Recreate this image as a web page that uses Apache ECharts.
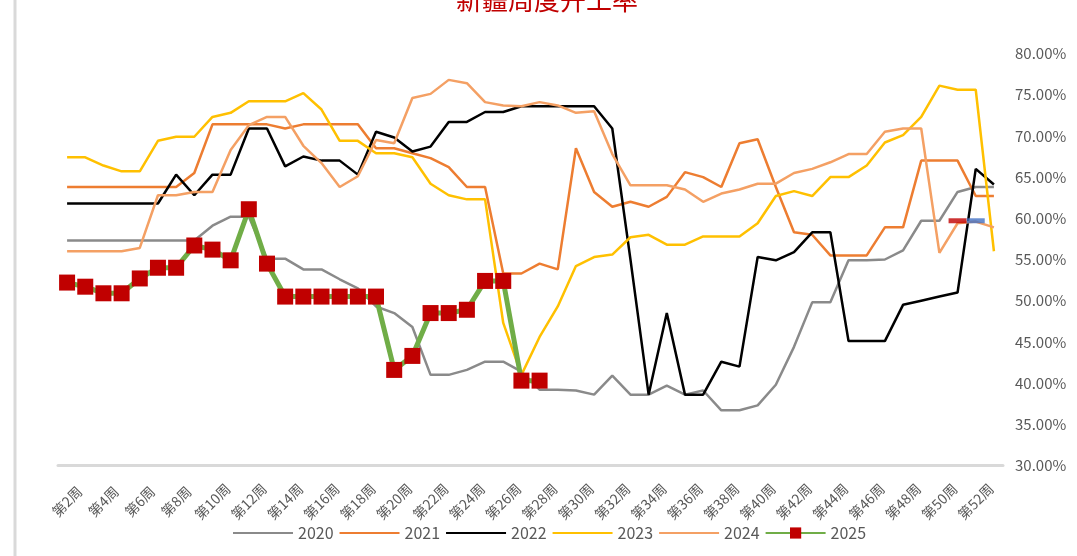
<!DOCTYPE html>
<html>
<head>
<meta charset="utf-8">
<script src="https://cdn.jsdelivr.net/npm/echarts@6/dist/echarts.min.js"></script>
<style>
  html, body { margin: 0; padding: 0; background: #fff; }
  #chart { width: 1077px; height: 556px; }
</style>
</head>
<body>
<div id="chart"></div>
<script>
const weeks = ['第2周', '第3周', '第4周', '第5周', '第6周', '第7周', '第8周', '第9周', '第10周', '第11周',
    '第12周', '第13周', '第14周', '第15周', '第16周', '第17周', '第18周', '第19周', '第20周', '第21周',
    '第22周', '第23周', '第24周', '第25周', '第26周', '第27周', '第28周', '第29周', '第30周', '第31周',
    '第32周', '第33周', '第34周', '第35周', '第36周', '第37周', '第38周', '第39周', '第40周', '第41周',
    '第42周', '第43周', '第44周', '第45周', '第46周', '第47周', '第48周', '第49周', '第50周', '第51周',
    '第52周', '第53周'];

const y2020 = [57.3, 57.3, 57.3, 57.3, 57.3, 57.3, 57.3, 57.3, 59.1, 60.2,
    60.2, 55.1, 55.1, 53.8, 53.8, 52.6, 51.5, 49.3, 48.5, 46.8,
    41.0, 41.0, 41.6, 42.6, 42.6, 41.4, 39.2, 39.2, 39.1, 38.6,
    40.9, 38.6, 38.6, 39.7, 38.6, 39.1, 36.7, 36.7, 37.3, 39.8,
    44.4, 49.8, 49.8, 54.9, 54.9, 55.0, 56.1, 59.7, 59.7, 63.2,
    63.8, 63.8];

const y2021 = [63.8, 63.8, 63.8, 63.8, 63.8, 63.8, 63.8, 65.5, 71.4, 71.4,
    71.4, 71.4, 70.9, 71.4, 71.4, 71.4, 71.4, 68.5, 68.5, 67.9,
    67.3, 66.2, 63.8, 63.8, 53.3, 53.3, 54.5, 53.8, 68.5, 63.2,
    61.4, 62.0, 61.4, 62.6, 65.6, 65.0, 63.8, 69.1, 69.6, 63.8,
    58.3, 58.0, 55.5, 55.5, 55.5, 58.9, 58.9, 67.0, 67.0, 67.0,
    62.7, 62.7];

const y2022 = [61.8, 61.8, 61.8, 61.8, 61.8, 61.8, 65.3, 62.8, 65.3, 65.3,
    70.9, 70.9, 66.3, 67.5, 67.0, 67.0, 65.3, 70.5, 69.8, 68.1,
    68.7, 71.7, 71.7, 72.9, 72.9, 73.6, 73.6, 73.6, 73.6, 73.6,
    70.9, 55.0, 38.6, 48.5, 38.6, 38.6, 42.6, 42.0, 55.3, 54.9,
    55.9, 58.3, 58.3, 45.1, 45.1, 45.1, 49.5, 50.0, 50.5, 51.0,
    66.0, 64.1];

const y2023 = [67.4, 67.4, 66.4, 65.7, 65.7, 69.4, 69.9, 69.9, 72.3, 72.8,
    74.2, 74.2, 74.2, 75.2, 73.2, 69.4, 69.4, 67.9, 67.9, 67.4,
    64.2, 62.8, 62.3, 62.3, 47.3, 41.0, 45.6, 49.3, 54.2, 55.3,
    55.6, 57.7, 58.0, 56.8, 56.8, 57.8, 57.8, 57.8, 59.4, 62.7,
    63.3, 62.7, 65.0, 65.0, 66.4, 69.2, 70.1, 72.3, 76.1, 75.6,
    75.6, 56.0];

const y2024 = [56.0, 56.0, 56.0, 56.0, 56.4, 62.8, 62.8, 63.2, 63.2, 68.3,
    71.3, 72.3, 72.3, 68.8, 66.7, 63.8, 65.1, 69.5, 69.1, 74.6,
    75.1, 76.8, 76.4, 74.1, 73.7, 73.6, 74.1, 73.7, 72.8, 73.0,
    67.8, 64.0, 64.0, 64.0, 63.5, 62.0, 63.0, 63.5, 64.2, 64.2,
    65.5, 66.0, 66.8, 67.8, 67.8, 70.5, 70.9, 70.9, 55.8, 59.4,
    59.6, 58.9];

const y2025 = [52.2, 51.7, 50.9, 50.9, 52.7, 54.0, 54.0, 56.7, 56.2, 54.9,
    61.1, 54.5, 50.5, 50.5, 50.5, 50.5, 50.5, 50.5, 41.6, 43.3,
    48.5, 48.5, 48.9, 52.4, 52.4, 40.3, 40.3];

// the small red / blue marks near the right edge
const markRed = [['第51周', 59.7]];
const markBlue = [['第52周', 59.7]];

const plainYears = ['2020', '2021', '2022', '2023', '2024'];

function plainLine(name, data, color) {
    return {
        name: name,
        type: 'line',
        data: data,
        symbol: 'none',
        lineStyle: { color: color, width: 2.5 },
        itemStyle: { color: color }
    };
}

const chart = echarts.init(document.getElementById('chart'));

chart.setOption({
    backgroundColor: '#ffffff',
    animation: false,
    textStyle: { fontFamily: "'Noto Sans CJK SC', 'Noto Sans', sans-serif" },
    title: {
        text: '新疆周度开工率',
        left: 456,
        top: -13,
        padding: 0,
        textStyle: { color: '#C00000', fontSize: 26, fontWeight: 'normal', lineHeight: 26 }
    },
    graphic: [{
        type: 'line',
        shape: { x1: 15, y1: 0, x2: 15, y2: 556 },
        style: { stroke: '#D9D9D9', lineWidth: 3 }
    }],
    legend: {
        data: plainYears.map(function (y) {
            return { name: y, itemStyle: { opacity: 0 } };
        }).concat([{ name: '2025' }]),
        left: 232,
        top: 525,
        padding: 0,
        itemWidth: 60,
        itemHeight: 14,
        itemGap: 5,
        textStyle: { color: '#595959', fontSize: 16 }
    },
    grid: { left: 58, right: 74, top: 53.5, bottom: 90.5 },
    xAxis: {
        type: 'category',
        data: weeks,
        boundaryGap: true,
        axisLine: { lineStyle: { color: '#D9D9D9', width: 3 } },
        axisTick: { show: false },
        axisLabel: {
            interval: 1,
            rotate: 45,
            align: 'center',
            verticalAlign: 'middle',
            margin: 36,
            color: '#595959',
            fontSize: 14
        }
    },
    yAxis: {
        type: 'value',
        position: 'right',
        min: 30,
        max: 80,
        interval: 5,
        axisLine: { show: false },
        axisTick: { show: false },
        splitLine: { show: false },
        axisLabel: {
            margin: 12,
            color: '#595959',
            fontSize: 15,
            formatter: function (v) { return v.toFixed(2) + '%'; }
        }
    },
    series: [
        plainLine('2020', y2020, '#8A8A8A'),
        plainLine('2021', y2021, '#ED7D31'),
        plainLine('2022', y2022, '#000000'),
        plainLine('2023', y2023, '#FFC000'),
        plainLine('2024', y2024, '#F4A064'),
        {
            name: '2025',
            type: 'line',
            data: y2025,
            symbol: 'rect',
            symbolSize: 16,
            showAllSymbol: true,
            lineStyle: { color: '#70AD47', width: 5 },
            itemStyle: { color: '#C00000' },
            z: 5
        },
        {
            name: 'markRed',
            type: 'scatter',
            data: markRed,
            symbol: 'rect',
            symbolSize: [18, 5],
            itemStyle: { color: '#C00000' },
            z: 4
        },
        {
            name: 'markBlue',
            type: 'scatter',
            data: markBlue,
            symbol: 'rect',
            symbolSize: [18, 5],
            itemStyle: { color: '#4472C4' },
            z: 4
        }
    ]
});
</script>
</body>
</html>
